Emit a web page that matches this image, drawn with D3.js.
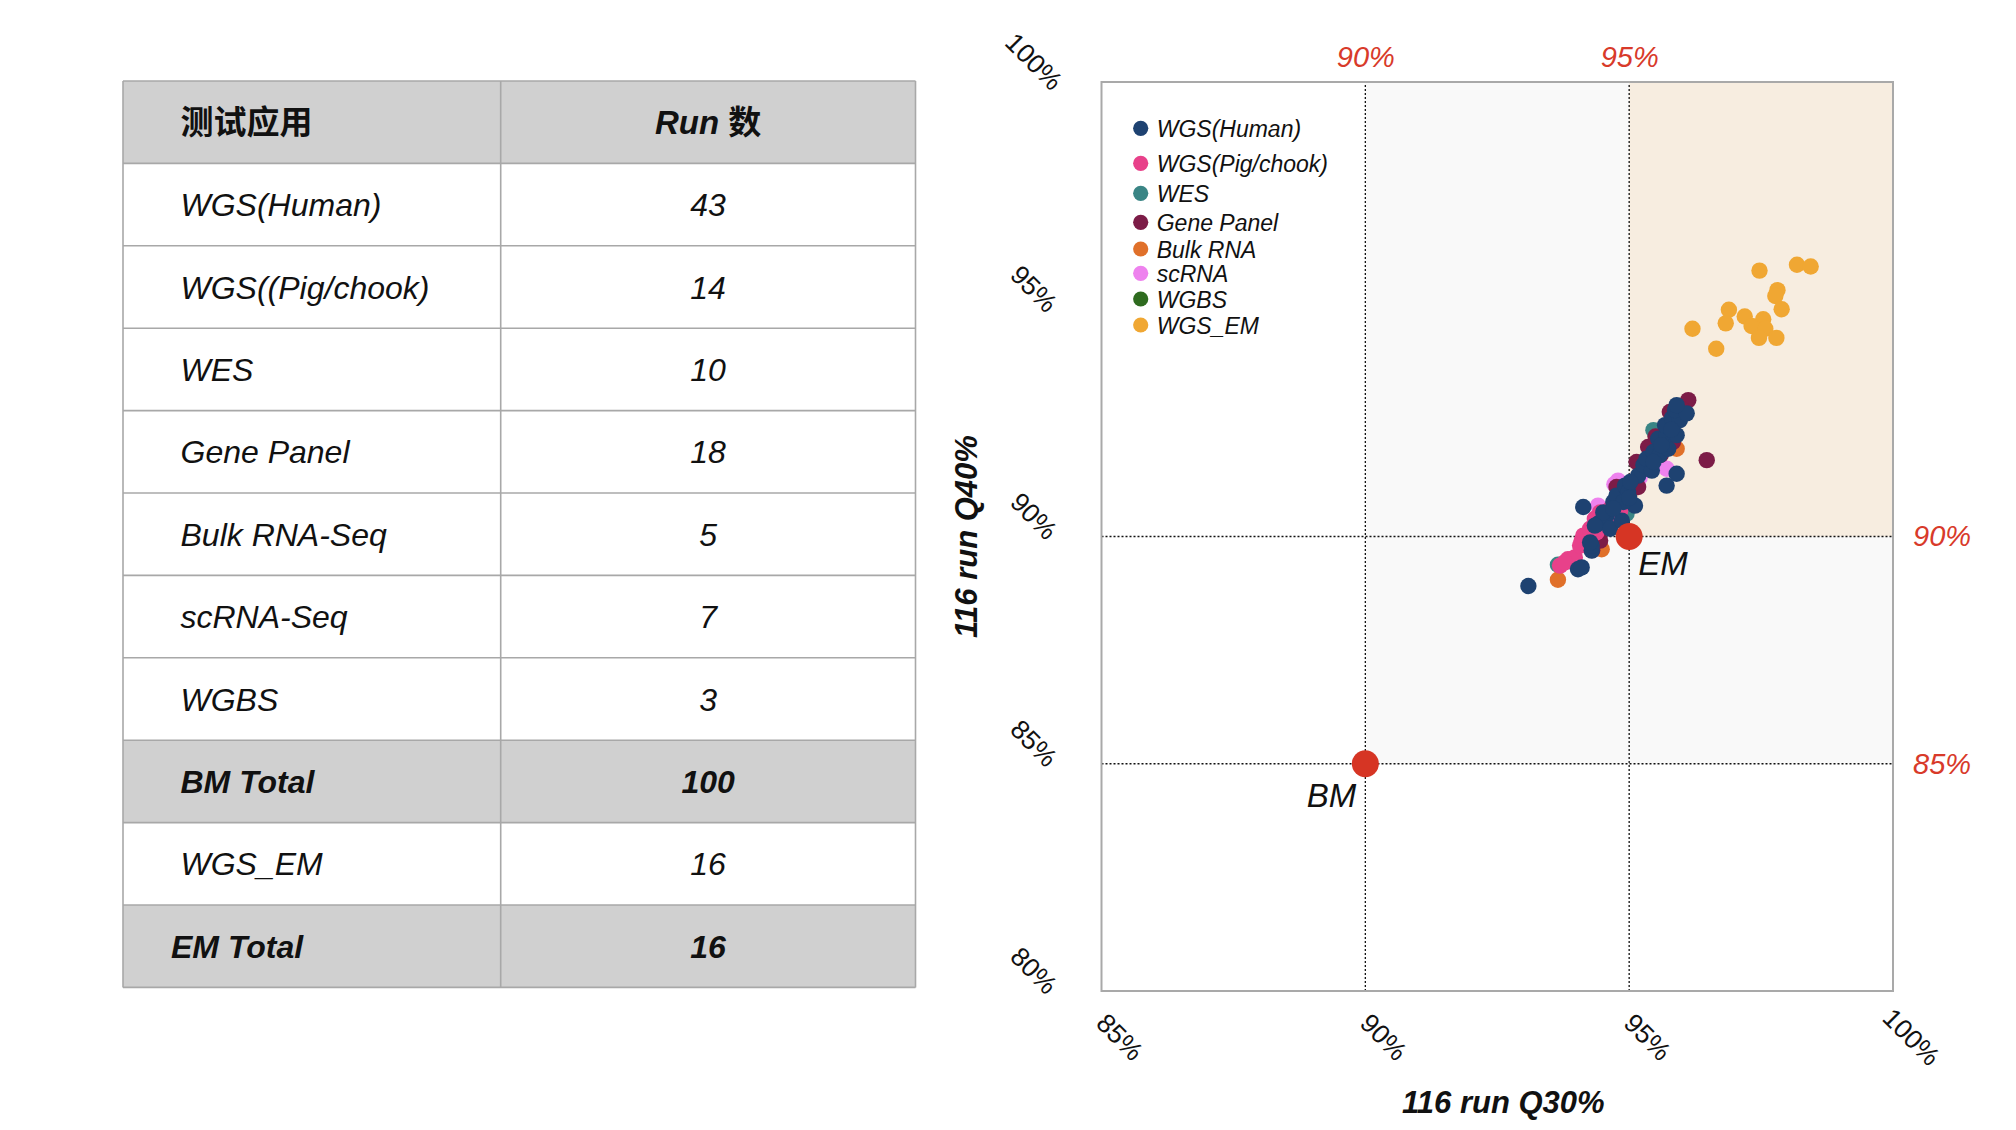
<!DOCTYPE html>
<html>
<head>
<meta charset="utf-8">
<script src="https://cdn.jsdelivr.net/npm/d3@7"></script>
<style>
  html, body { margin: 0; padding: 0; background: #ffffff; }
  svg { display: block; font-family: "Liberation Sans", Arial, "Noto Sans CJK SC", sans-serif; }
</style>
</head>
<body>
<svg id="chart" width="2016" height="1130"></svg>
<script>
// ---------------- DATA ----------------
const tableHeader = ["测试应用", "Run 数"];
const tableApps = ["WGS(Human)", "WGS((Pig/chook)", "WES", "Gene Panel", "Bulk RNA-Seq", "scRNA-Seq", "WGBS", "BM Total", "WGS_EM", "EM Total"];
const tableRuns = [43, 14, 10, 18, 5, 7, 3, 100, 16, 16];
const totalRows = ["BM Total", "EM Total"];

const seriesNames = ["WGS(Human)", "WGS(Pig/chook)", "WES", "Gene Panel", "Bulk RNA", "scRNA", "WGBS", "WGS_EM"];
const seriesColors = ["#1e4271", "#e8418a", "#3a8585", "#7c1c47", "#e0702a", "#ee82ee", "#2e6b1f", "#f0a733"];

// [Q30 %, Q40 %] per run
const wgsHuman = [[93.09,88.91],[94.03,89.28],[94.10,89.32],[94.29,89.69],[94.29,89.80],[94.13,90.65],[94.41,90.28],[94.57,90.46],[94.64,90.17],[94.86,90.35],[94.70,90.76],[94.76,90.90],[94.92,91.12],[95.11,90.68],[94.98,90.98],[95.17,91.34],[95.27,91.57],[95.43,91.45],[95.33,91.71],[95.46,91.86],[95.58,91.79],[95.74,91.93],[95.55,92.15],[95.71,92.23],[95.90,92.23],[95.68,92.45],[95.81,92.60],[95.96,92.56],[95.87,92.78],[96.09,92.71],[95.90,92.89],[95.71,91.12],[95.90,91.38],[94.89,90.76],[94.51,90.53],[94.35,90.24],[95.46,91.64],[95.61,92.01],[95.02,91.20],[94.70,90.61],[94.26,89.87],[95.00,90.85],[95.80,92.35]];
const wgsPig = [[93.69,89.36],[93.84,89.50],[93.97,89.54],[94.10,89.91],[94.13,90.02],[94.26,90.17],[94.35,90.39],[94.45,90.53],[94.64,90.61],[94.83,90.57],[94.79,90.42],[94.38,90.09],[94.07,89.80],[93.78,89.43]];
const wes = [[95.46,92.34],[93.65,89.38],[94.95,90.50],[94.50,90.30],[95.30,91.60],[95.70,92.30],[94.90,90.90],[95.50,91.90],[94.20,89.90],[95.80,92.50]];
const genePanel = [[96.12,93.00],[96.47,91.68],[95.36,91.97],[95.14,91.64],[95.17,91.09],[94.76,91.09],[94.45,89.91],[95.77,92.74],[95.83,92.08],[94.64,90.31],[95.50,92.20],[95.00,91.00],[94.60,90.50],[95.90,92.60],[95.30,91.50],[94.30,89.70],[95.60,91.80],[96.00,92.80]];
const bulkRna = [[93.65,89.05],[94.48,89.72],[95.90,91.93],[95.00,90.90],[94.70,90.40]];
const scRna = [[95.71,91.49],[94.41,90.68],[94.79,91.23],[94.72,91.15],[95.20,91.30],[94.50,90.40],[95.60,92.00]];
const wgbs = [[95.00,91.00],[95.50,92.00],[94.80,90.70]];
const wgsEm = [[97.47,95.85],[98.18,95.98],[98.44,95.94],[97.81,95.42],[97.77,95.29],[97.89,95.00],[96.89,94.99],[96.83,94.69],[97.19,94.84],[97.54,94.78],[97.32,94.63],[97.58,94.57],[96.20,94.57],[97.46,94.37],[97.79,94.37],[96.65,94.13]];

const seriesData = [wgsHuman, wgsPig, wes, genePanel, bulkRna, scRna, wgbs, wgsEm];
const drawOrder = [7, 6, 2, 4, 5, 3, 1, 0];

const refNames = ["BM", "EM"];
const refPoints = [[90, 85], [95, 90]];

const xTicks = [85, 90, 95, 100];
const yTicks = [80, 85, 90, 95, 100];
const xThresholds = [90, 95];
const yThresholds = [85, 90];
const xTitle = "116 run Q30%";
const yTitle = "116 run Q40%";

// ---------------- LAYOUT ----------------
const svg = d3.select("#chart");
const pct = d => d + "%";

// ---- table ----
const T = { left: 123, mid: 500.7, right: 915.5, top: 81, rowH: 82.4 };
const rowsData = [{app: tableHeader[0], run: tableHeader[1], kind: "header"}]
  .concat(tableApps.map((a, i) => ({app: a, run: String(tableRuns[i]), kind: totalRows.includes(a) ? "total" : "body"})));

const table = svg.append("g");
const rowG = table.selectAll("g.row").data(rowsData).join("g")
  .attr("transform", (d, i) => `translate(0,${T.top + i * T.rowH})`);
rowG.append("rect")
  .attr("x", T.left).attr("y", 0)
  .attr("width", T.right - T.left).attr("height", T.rowH)
  .attr("fill", d => d.kind === "body" ? "#ffffff" : "#d0d0d0");
rowG.append("text")
  .attr("x", d => d.app === "EM Total" ? 171 : 180.5)
  .attr("y", T.rowH / 2).attr("dy", "0.36em")
  .attr("font-size", d => d.kind === "header" ? 33 : 32)
  .attr("font-weight", d => d.kind === "body" ? "normal" : "bold")
  .attr("font-style", d => d.kind === "header" ? "normal" : "italic")
  .attr("font-family", d => d.kind === "header" ? "'Noto Sans CJK SC', sans-serif" : null)
  .attr("fill", "#111")
  .text(d => d.app);
rowG.append("text")
  .attr("x", (T.mid + T.right) / 2)
  .attr("y", T.rowH / 2).attr("dy", "0.36em")
  .attr("text-anchor", "middle")
  .attr("font-size", d => d.kind === "header" ? 33 : 32)
  .attr("font-weight", d => d.kind === "body" ? "normal" : "bold")
  .attr("font-style", "italic")
  .attr("fill", "#111")
  .each(function(d) {
    const t = d3.select(this);
    if (d.kind === "header") {
      const parts = d.run.split(" ");
      t.append("tspan").text(parts[0] + " ");
      t.append("tspan").attr("font-style", "normal").attr("font-family", "'Noto Sans CJK SC', sans-serif").text(parts[1]);
    } else t.text(d.run);
  });
// grid lines
const nRows = rowsData.length;
const tableBottom = T.top + nRows * T.rowH;
table.selectAll("line.h").data(d3.range(nRows + 1)).join("line")
  .attr("x1", T.left).attr("x2", T.right)
  .attr("y1", i => T.top + i * T.rowH).attr("y2", i => T.top + i * T.rowH)
  .attr("stroke", "#a8a8a8").attr("stroke-width", 1.6);
table.selectAll("line.v").data([T.left, T.mid, T.right]).join("line")
  .attr("x1", d => d).attr("x2", d => d)
  .attr("y1", T.top).attr("y2", tableBottom)
  .attr("stroke", "#a8a8a8").attr("stroke-width", 1.6);

// ---- scatter ----
const P = { left: 1101.5, right: 1893, top: 82, bottom: 991 };
const x = d3.scaleLinear().domain([85, 100]).range([P.left, P.right]);
const y = d3.scaleLinear().domain([80, 100]).range([P.bottom, P.top]);

const plot = svg.append("g");
plot.append("rect").attr("x", P.left).attr("y", P.top)
  .attr("width", P.right - P.left).attr("height", P.bottom - P.top).attr("fill", "#ffffff");
plot.append("rect")
  .attr("x", x(xThresholds[0])).attr("y", y(100))
  .attr("width", x(100) - x(xThresholds[0])).attr("height", y(yThresholds[0]) - y(100))
  .attr("fill", "#f9f9f9");
plot.append("rect")
  .attr("x", x(xThresholds[1])).attr("y", y(100))
  .attr("width", x(100) - x(xThresholds[1])).attr("height", y(yThresholds[1]) - y(100))
  .attr("fill", "#f7ede0");

plot.selectAll("line.vx").data(xThresholds).join("line")
  .attr("x1", d => x(d)).attr("x2", d => x(d)).attr("y1", y(80)).attr("y2", y(100))
  .attr("stroke", "#111").attr("stroke-width", 1.3).attr("stroke-dasharray", "2,2");
plot.selectAll("line.hy").data(yThresholds).join("line")
  .attr("x1", x(85)).attr("x2", x(100)).attr("y1", d => y(d)).attr("y2", d => y(d))
  .attr("stroke", "#111").attr("stroke-width", 1.3).attr("stroke-dasharray", "2,2");

// frame
plot.append("rect").attr("x", P.left).attr("y", P.top)
  .attr("width", P.right - P.left).attr("height", P.bottom - P.top)
  .attr("fill", "none").attr("stroke", "#a9a9a9").attr("stroke-width", 2);

// points
drawOrder.forEach(si => {
  plot.append("g").selectAll("circle").data(seriesData[si]).join("circle")
    .attr("cx", d => x(d[0])).attr("cy", d => y(d[1])).attr("r", 8.2)
    .attr("fill", seriesColors[si]);
});

// reference points
plot.selectAll("circle.ref").data(refPoints).join("circle")
  .attr("cx", d => x(d[0])).attr("cy", d => y(d[1])).attr("r", 13.5)
  .attr("fill", "#d63524");
plot.selectAll("text.ref").data(refPoints).join("text")
  .attr("x", (d, i) => x(d[0]) + (i === 0 ? -9 : 9))
  .attr("y", (d, i) => y(d[1]) + (i === 0 ? 43 : 38))
  .attr("text-anchor", (d, i) => i === 0 ? "end" : "start")
  .attr("font-size", 33).attr("font-style", "italic").attr("fill", "#111")
  .text((d, i) => refNames[i]);

// legend
const legendY = [128.3, 163.3, 193.3, 222.3, 249, 273.3, 299, 325];
const legend = plot.append("g");
const lg = legend.selectAll("g").data(seriesNames).join("g")
  .attr("transform", (d, i) => `translate(1140.7,${legendY[i]})`);
lg.append("circle").attr("r", 7.6).attr("fill", (d, i) => seriesColors[i]);
lg.append("text").attr("x", 16).attr("y", 9)
  .attr("font-size", 23).attr("font-style", "italic").attr("fill", "#111")
  .text(d => d);

// axes (black rotated tick labels)
const xAxis = plot.append("g").attr("transform", `translate(0,${P.bottom})`)
  .call(d3.axisBottom(x).tickValues(xTicks).tickSize(0).tickFormat(pct));
xAxis.select(".domain").remove();
xAxis.selectAll("text")
  .attr("x", 0).attr("y", 0).attr("dy", "0.35em")
  .attr("text-anchor", "middle")
  .attr("transform", "translate(18,46) rotate(45)")
  .attr("font-size", 26.5).attr("font-family", "'Liberation Sans', Arial, sans-serif").attr("fill", "#111");

const yAxis = plot.append("g").attr("transform", `translate(${P.left},0)`)
  .call(d3.axisLeft(y).tickValues(yTicks).tickSize(0).tickFormat(pct));
yAxis.select(".domain").remove();
yAxis.selectAll("text")
  .attr("x", 0).attr("y", 0).attr("dy", "0.35em")
  .attr("text-anchor", "middle")
  .attr("transform", "translate(-67.5,-21) rotate(45)")
  .attr("font-size", 26.5).attr("font-family", "'Liberation Sans', Arial, sans-serif").attr("fill", "#111");

// red threshold axes
const topAxis = plot.append("g").attr("transform", `translate(0,${P.top})`)
  .call(d3.axisTop(x).tickValues(xThresholds).tickSize(0).tickPadding(15).tickFormat(pct));
topAxis.select(".domain").remove();
topAxis.selectAll("text")
  .attr("font-size", 29).attr("font-style", "italic").attr("font-family", "'Liberation Sans', Arial, sans-serif").attr("fill", "#d83a2a");

const rightAxis = plot.append("g").attr("transform", `translate(${P.right},0)`)
  .call(d3.axisRight(y).tickValues(yThresholds).tickSize(0).tickPadding(20).tickFormat(pct));
rightAxis.select(".domain").remove();
rightAxis.selectAll("text")
  .attr("font-size", 29).attr("font-style", "italic").attr("font-family", "'Liberation Sans', Arial, sans-serif").attr("fill", "#d83a2a");

// axis titles
plot.append("text")
  .attr("x", (P.left + P.right) / 2 + 6).attr("y", 1113)
  .attr("text-anchor", "middle")
  .attr("font-size", 31).attr("font-weight", "bold").attr("font-style", "italic").attr("fill", "#111")
  .text(xTitle);
plot.append("text")
  .attr("transform", `translate(977,${(P.top + P.bottom) / 2}) rotate(-90)`)
  .attr("text-anchor", "middle")
  .attr("font-size", 31).attr("font-weight", "bold").attr("font-style", "italic").attr("fill", "#111")
  .text(yTitle);
</script>
</body>
</html>
